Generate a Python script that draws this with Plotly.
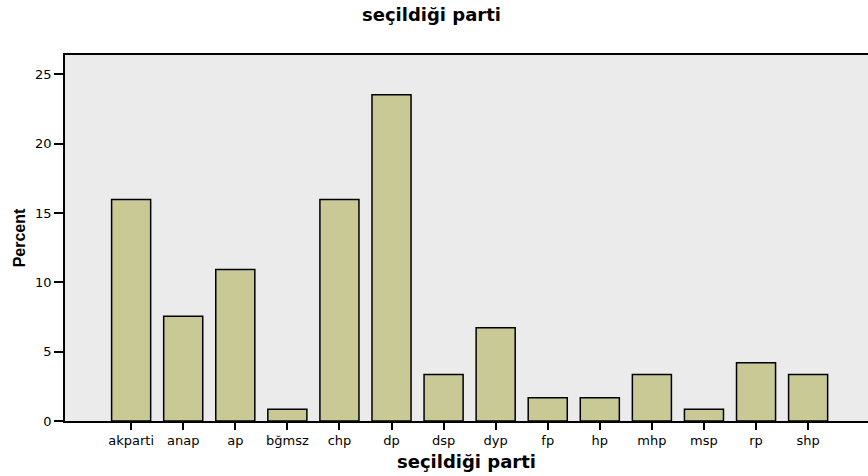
import plotly.graph_objects as go

categories = ["akparti", "anap", "ap", "bğmsz", "chp", "dp", "dsp", "dyp",
              "fp", "hp", "mhp", "msp", "rp", "shp"]
percent = [15.97, 7.56, 10.92, 0.84, 15.97, 23.53, 3.36, 6.72,
           1.68, 1.68, 3.36, 0.84, 4.20, 3.36]
y_ticks = [0, 5, 10, 15, 20, 25]

FONT = "DejaVu Sans, Arial, sans-serif"
TFONT = "DejaVu Sans, Arial, sans-serif"

fig = go.Figure(go.Bar(
    x=list(range(len(categories))),
    y=percent,
    width=0.75,
    marker=dict(color="#C9C996", line=dict(color="#000000", width=1.5)),
))

fig.update_layout(
    width=868, height=476,
    margin=dict(l=65, r=0, t=55, b=55, autoexpand=False),
    paper_bgcolor="white",
    plot_bgcolor="#EBEBEB",
    showlegend=False,
    font=dict(family=FONT, color="black", size=12),
    title=dict(text="<b>seçildiği parti</b>", x=431.5 / 868, xanchor="center",
               y=1 - 15 / 476, yanchor="middle",
               font=dict(family=TFONT, size=18, color="black")),
    bargap=0.25,
)

fig.update_xaxes(
    range=[-1.27, 14.15],
    automargin=False,
    tickmode="array",
    tickvals=list(range(len(categories))),
    ticktext=categories,
    ticks="outside", ticklen=7, tickwidth=1.5, tickcolor="black",
    showline=True, linecolor="black", linewidth=1.5, mirror=True,
    showgrid=False, zeroline=False,
    tickfont=dict(family=FONT, size=13, color="black"),
    title=dict(text="<b>seçildiği parti</b>", standoff=8,
               font=dict(family=TFONT, size=18, color="black")),
)

fig.update_yaxes(
    range=[0, 26.4],
    automargin=False,
    tickmode="array",
    tickvals=y_ticks,
    ticks="outside", ticklen=9, tickwidth=1.5, tickcolor="black",
    showline=True, linecolor="black", linewidth=1.5,
    showgrid=False, zeroline=False,
    tickfont=dict(family=FONT, size=13, color="black"),
    title=dict(text="<b>Percent</b>", standoff=6,
               font=dict(family="Liberation Sans, Arial, sans-serif", size=16, color="black")),
)

fig.write_html("out.html", config={"displayModeBar": False},
               post_script="document.body.style.margin='0';")
